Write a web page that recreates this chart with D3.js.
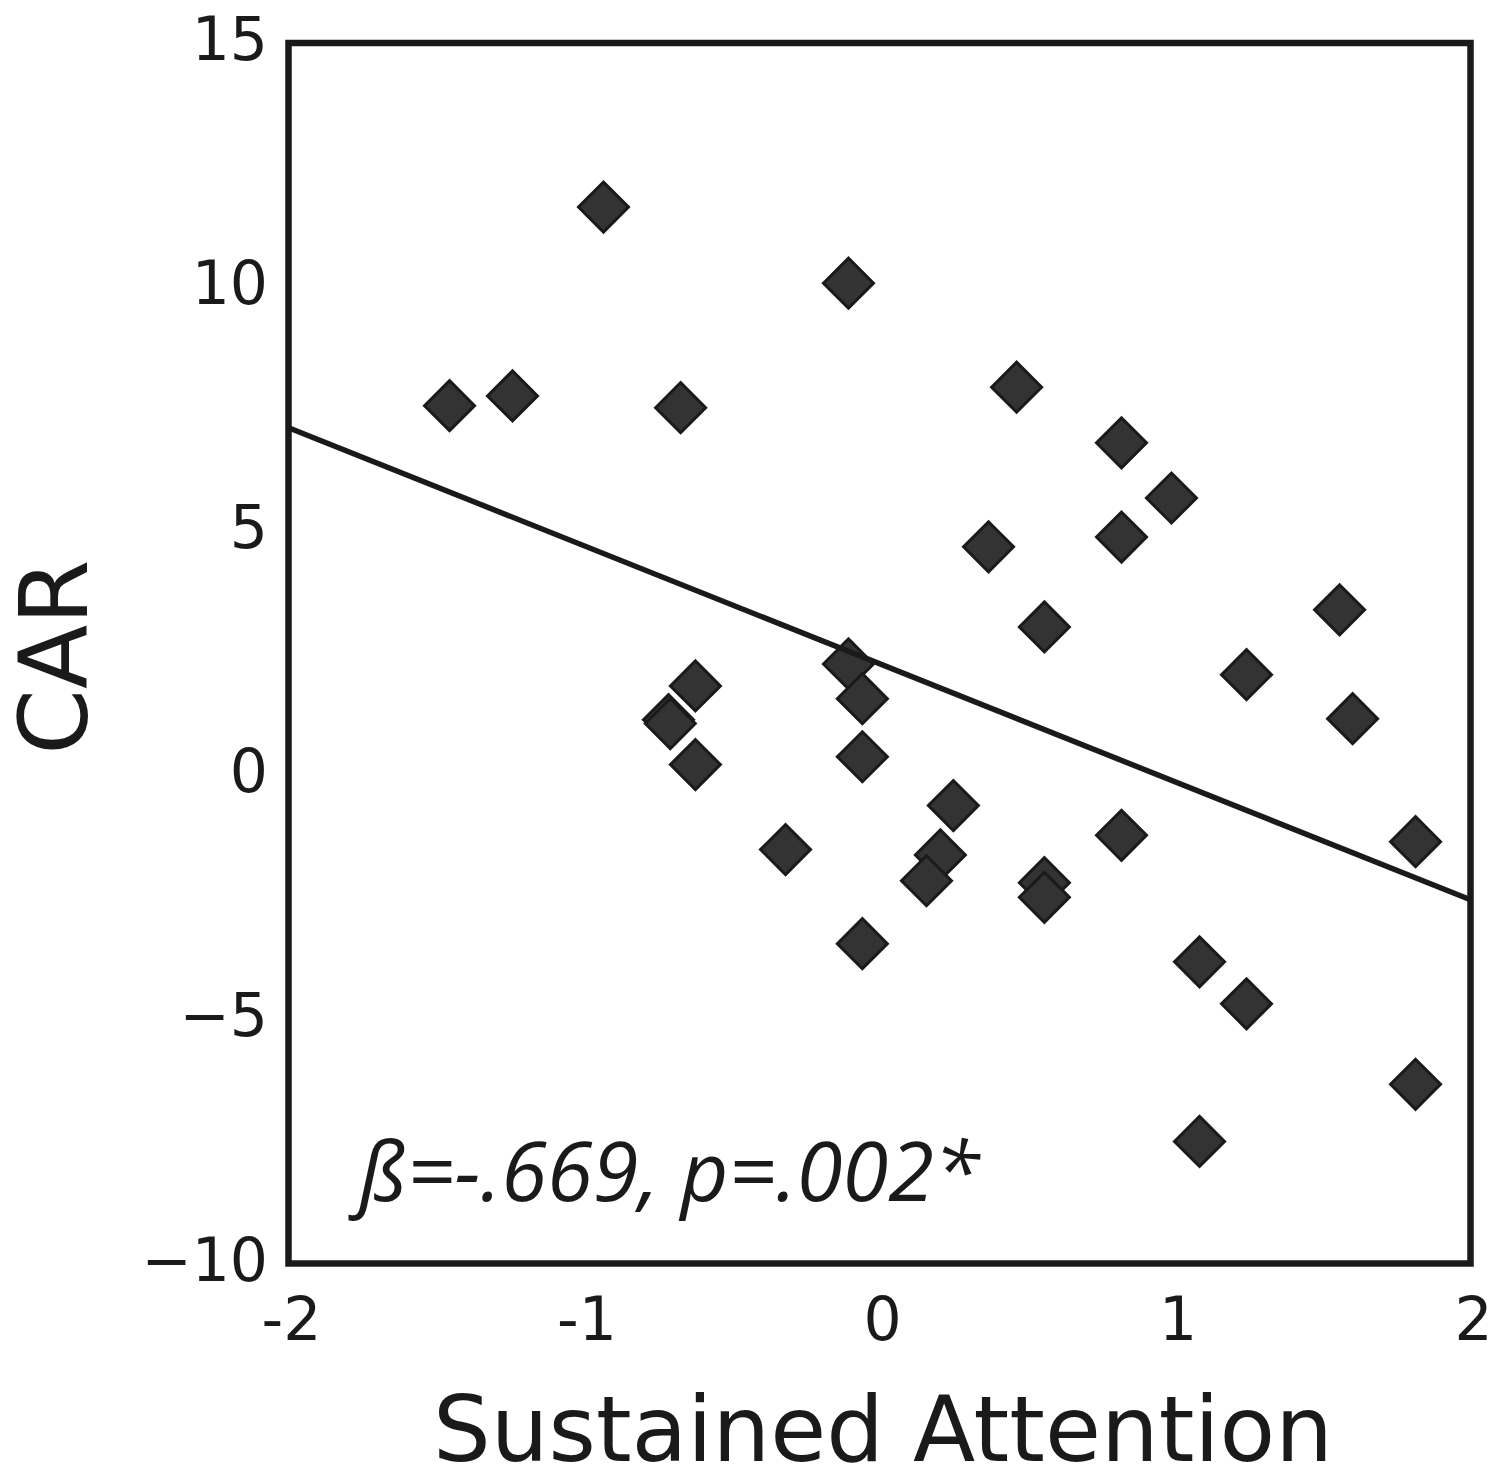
<!DOCTYPE html>
<html>
<head>
<meta charset="utf-8">
<script src="https://cdn.jsdelivr.net/npm/d3@7"></script>
<style>
  body { margin: 0; background: #fff; }
  svg { display: block; }
</style>
</head>
<body>
<div id="chart"></div>
<script>
// sustained attention (z score) vs CAR
const attention = [-1.455, -1.242, -0.934, -0.105, -0.673, 0.464, 0.819, 0.988, 0.819, 0.369,
                   0.558, 1.557, 1.242, 1.601, -0.105, -0.058, -0.623, -0.714, -0.708, -0.623,
                   -0.058, 0.25, -0.318, 0.206, 0.159, 0.558, 0.558, 0.819, 1.814, -0.058,
                   1.083, 1.242, 1.814, 1.083]
const car = [7.57, 7.77, 11.64, 10.08, 7.53, 7.95, 6.81, 5.68, 4.88, 4.68,
             3.04, 3.39, 2.06, 1.16, 2.28, 1.57, 1.83, 1.14, 1.06, 0.22,
             0.38, -0.62, -1.52, -1.63, -2.16, -2.2, -2.5, -1.23, -1.36, -3.45,
             -3.82, -4.68, -6.33, -7.5]

// fitted line, end points at the x limits
const fitX = [-2, 2]
const fitY = [7.12, -2.55]

const xTicks = [-2, -1, 0, 1, 2]
const xTickLabels = ["-2", "-1", "0", "1", "2"]
const yTicks = [-10, -5, 0, 5, 10, 15]

const statText = "ß=-.669, p=.002*"

const width = 1492, height = 1470
const margin = {left: 288.5, right: 21.5, top: 43, bottom: 206.5}
const ink = "#1a1a1a"

const svg = d3.select("#chart").append("svg")
  .attr("width", width)
  .attr("height", height)

const x = d3.scaleLinear().domain([-2, 2]).range([margin.left, width - margin.right])
const y = d3.scaleLinear().domain([-10, 15]).range([height - margin.bottom, margin.top])

const points = attention.map((a, i) => [a, car[i]])

const diamond = d3.symbol().type(d3.symbolSquare).size(1250)

svg.append("g")
  .selectAll("path")
  .data(points)
  .join("path")
    .attr("d", diamond)
    .attr("transform", d => "translate(" + x(d[0]) + "," + y(d[1]) + ") rotate(45)")
    .attr("fill", "#333333")
    .attr("stroke", ink)
    .attr("stroke-width", 3)

svg.append("line")
  .attr("x1", x(fitX[0])).attr("y1", y(fitY[0]))
  .attr("x2", x(fitX[1])).attr("y2", y(fitY[1]))
  .attr("stroke", ink)
  .attr("stroke-width", 5.5)

// frame
svg.append("rect")
  .attr("x", x(-2)).attr("y", y(15))
  .attr("width", x(2) - x(-2))
  .attr("height", y(-10) - y(15))
  .attr("fill", "none")
  .attr("stroke", ink)
  .attr("stroke-width", 6.5)

// y tick labels
svg.append("g")
  .selectAll("text")
  .data(yTicks)
  .join("text")
    .attr("x", 268)
    .attr("y", d => y(d) + 17)
    .attr("text-anchor", "end")
    .attr("font-family", "DejaVu Sans")
    .attr("font-size", 60)
    .attr("fill", ink)
    .text(d => d < 0 ? "\u2212" + Math.abs(d) : d)

// x tick labels
svg.append("g")
  .selectAll("text")
  .data(xTicks)
  .join("text")
    .attr("x", d => x(d) + 3)
    .attr("y", 1340)
    .attr("text-anchor", "middle")
    .attr("font-family", "DejaVu Sans")
    .attr("font-size", 60)
    .attr("fill", ink)
    .text((d, i) => xTickLabels[i])

svg.append("text")
  .attr("x", 883)
  .attr("y", 1461)
  .attr("text-anchor", "middle")
  .attr("font-family", "DejaVu Sans")
  .attr("font-size", 91)
  .attr("fill", ink)
  .text("Sustained Attention")

svg.append("text")
  .attr("transform", "translate(87," + 657 + ") rotate(-90)")
  .attr("text-anchor", "middle")
  .attr("font-family", "DejaVu Sans")
  .attr("font-size", 94)
  .attr("fill", ink)
  .text("CAR")

svg.append("text")
  .attr("x", 359)
  .attr("y", 1201)
  .attr("font-family", "Open Sans")
  .attr("font-style", "italic")
  .attr("font-size", 83)
  .attr("fill", ink)
  .text(statText)
</script>
</body>
</html>
